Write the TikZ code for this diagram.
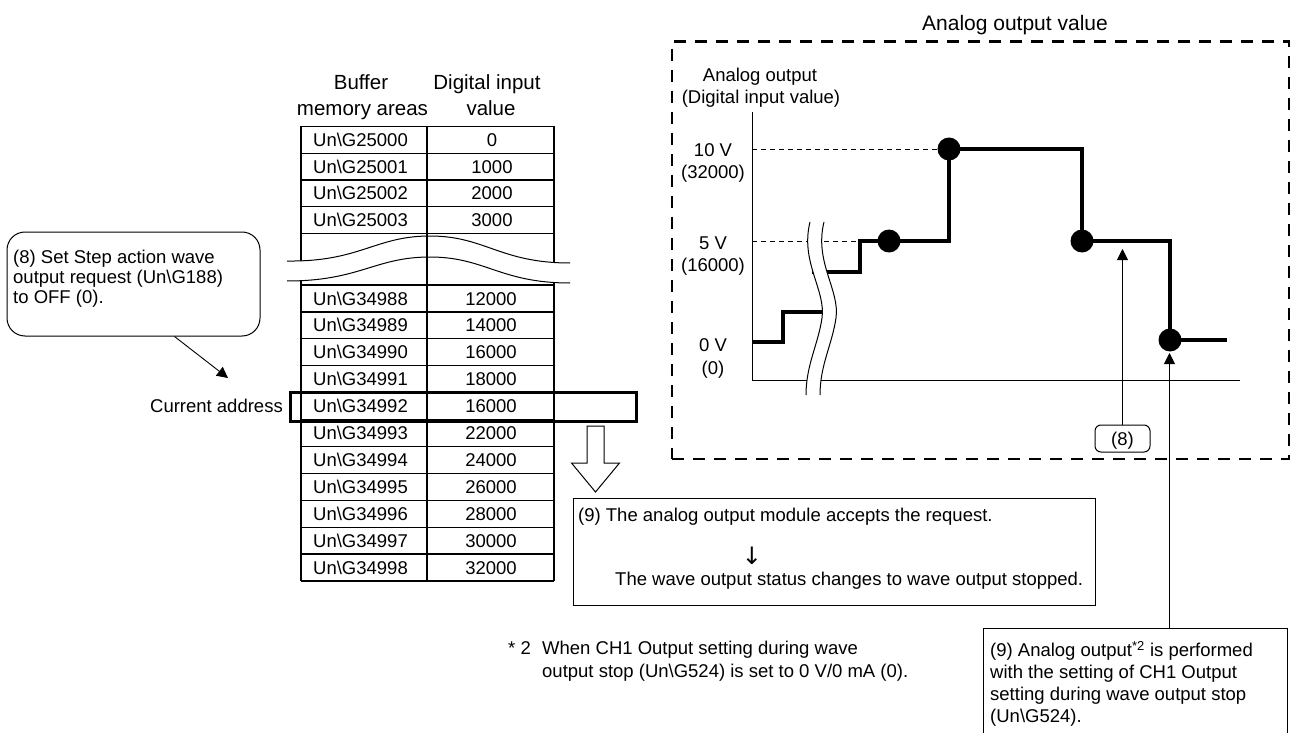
\documentclass[tikz,border=0pt]{standalone}
\usepackage{fontspec}
\setmainfont{Liberation Sans}
\newfontfamily\djv{DejaVu Sans}
\usetikzlibrary{arrows.meta,calc}
\newcommand\ung[1]{Un\textbackslash G#1}
\newcommand\fsm{\fontsize{18.5}{21}\selectfont}
\newcommand\fhd{\fontsize{20.5}{24}\selectfont}
\begin{document}
\begin{tikzpicture}[x=1pt,y=-1pt,
  txt/.style={inner sep=0pt, font=\fsm, text height=13.2pt, text depth=0pt},
  hdr/.style={inner sep=0pt, font=\fhd, text height=14.6pt, text depth=0pt},
  ml/.style={inner sep=0pt, align=left, anchor=north west},
  tline/.style={line width=1.2pt},
  wave/.style={line width=4.2pt, line join=miter},
  refline/.style={line width=0.8pt, dash pattern=on 5pt off 4pt},
  frame/.style={draw, line width=2.6pt, dash pattern=on 12pt off 9pt, inner sep=0pt},
  dot/.style={circle, fill=black, minimum size=23pt, inner sep=0pt},
  tip/.style={-{Triangle[length=11pt,width=11pt]}, line width=0.9pt},
  box/.style={draw, line width=1pt, inner sep=0pt}
]
\useasboundingbox (0,0) rectangle (1291,733);

% ---------------- left callout ----------------
\node[box, rounded corners=18pt, minimum width=253pt, minimum height=104pt] (callout) at (133.5,284) {};
\node[ml, font=\fontsize{18.5}{20}\selectfont] (callouttxt) at (13,250) {(8) Set Step action wave\\output request (\ung{188})\\to OFF (0).};
\node[txt, anchor=east] (cur) at (283,406) {Current address};
\coordinate (ctip) at (228,378);
\draw[tip] ($(callout.south west)+(168,0)$) -- (ctip);

% ---------------- table ----------------
\node[hdr] (h1) at (361,82) {Buffer};
\node[hdr] (h2) at (362.5,108) {memory areas};
\node[hdr] (h3) at (487,82) {Digital input};
\node[hdr] (h4) at (491,108) {value};

\foreach \k in {0,...,4} \draw[tline] (301,126.5+26.75*\k) -- (554,126.5+26.75*\k);
\foreach \k in {0,...,11} \draw[tline] (301,285+26.9*\k) -- (554,285+26.9*\k);
\draw[tline] (301,126.5) -- (301,580.9);
\draw[tline] (554,126.5) -- (554,580.9);
\draw[tline] (427,126.5) -- (427,580.9);

\foreach \i/\a/\v in {0/25000/0,1/25001/1000,2/25002/2000,3/25003/3000}{
  \node[txt, anchor=west] (ta\i) at (313,139.9+26.75*\i) {\ung{\a}};
  \node[txt] (tb\i) at (492,139.9+26.75*\i) {\v};
}
\foreach \i/\a/\v in {0/34988/12000,1/34989/14000,2/34990/16000,3/34991/18000,4/34992/16000,5/34993/22000,6/34994/24000,7/34995/26000,8/34996/28000,9/34997/30000,10/34998/32000}{
  \node[txt, anchor=west] (tc\i) at (313,298.45+26.9*\i) {\ung{\a}};
  \node[txt] (td\i) at (491,298.45+26.9*\i) {\v};
}

% break band
\fill[white] (287,261) .. controls (360,262) and (375,236) .. (430,236) .. controls (485,236) and (500,263) .. (570,263)
  -- (570,283) .. controls (500,283) and (485,257) .. (430,257) .. controls (375,257) and (360,281) .. (287,281) -- cycle;
\draw[line width=1pt] (287,261) .. controls (360,262) and (375,236) .. (430,236) .. controls (485,236) and (500,263) .. (570,263);
\draw[line width=1pt] (287,281) .. controls (360,281) and (375,257) .. (430,257) .. controls (485,257) and (500,283) .. (570,283);
\draw[tline] (427,230) -- (427,290);

% current address highlight
\node[draw, line width=3pt, minimum width=346pt, minimum height=28.5pt, inner sep=0pt] (curbox) at (463,406.75) {};

% hollow arrow
\draw[line width=1pt, fill=white] (587,426) -- (604,426) -- (604,463) -- (619.5,463) -- (595.5,492) -- (571.5,463) -- (587,463) -- cycle;

% ---------------- accept box ----------------
\node[box, minimum width=522pt, minimum height=107pt] (acc) at (834,551.5) {};
\node[txt, anchor=west] (acc1) at (578,515) {(9) The analog output module accepts the request.};
\node[inner sep=0pt, font=\djv\fontsize{24}{28}\selectfont] (accarr) at (752,556) {↓};
\node[txt, anchor=west] (acc2) at (615,579) {The wave output status changes to wave output stopped.};

% footnote
\node[txt, anchor=west] (fn0) at (508,648) {* 2};
\node[ml, font=\fontsize{18.5}{23}\selectfont] (fn1) at (542,641) {When CH1 Output setting during wave\\output stop (\ung{524}) is set to 0 V/0 mA (0).};

% ---------------- graph ----------------
\node[font=\fontsize{21}{24}\selectfont, inner sep=0pt, text height=15pt, text depth=0pt] (title) at (1015,23) {Analog output value};
\node[frame, minimum width=617pt, minimum height=417.5pt] (frm) at (980.5,250.25) {};

\node[txt] (yl1) at (760,75) {Analog output};
\node[txt] (yl2) at (761,97) {(Digital input value)};
\node[txt] (v10) at (713,150) {10 V};
\node[txt] (v10d) at (713,172) {(32000)};
\node[txt] (v5) at (713,243) {5 V};
\node[txt] (v5d) at (713,265) {(16000)};
\node[txt] (v0) at (713,345) {0 V};
\node[txt] (v0d) at (713,368) {(0)};

\coordinate (O) at (752,380);
\draw[line width=1pt] (752,112) -- (O) -- (1240,380);

\draw[refline] (752,149) -- (949,149);
\draw[refline] (752,241) -- (860,241);

\draw[wave] (752,342) -- (783,342) -- (783,312) -- (828,312);
\draw[wave] (812,272) -- (860,272) -- (860,241) -- (949,241) -- (949,149) -- (1082,149) -- (1082,241) -- (1170,241) -- (1170,340) -- (1227,340);

% graph break
\fill[white] (810,222) .. controls (800,262) and (826,290) .. (822,318) .. controls (818,345) and (806,365) .. (806,395)
  -- (820,395) .. controls (820,365) and (832,345) .. (836,318) .. controls (840,290) and (814,262) .. (824,222) -- cycle;
\draw[line width=1pt] (810,222) .. controls (800,262) and (826,290) .. (822,318) .. controls (818,345) and (806,365) .. (806,395);
\draw[line width=1pt] (824,222) .. controls (814,262) and (840,290) .. (836,318) .. controls (832,345) and (820,365) .. (820,395);

\node[dot] (d1) at (889,241) {};
\node[dot] (d2) at (949,149) {};
\node[dot] (d3) at (1082,241) {};
\node[dot] (d4) at (1170,340) {};

% (8) arrow
\node[box, rounded corners=6pt, minimum width=55pt, minimum height=27pt, font=\fsm, text height=13.2pt, text depth=0pt] (b8) at (1122.5,438.5) {(8)};
\coordinate (t8) at (1122.5,249);
\draw[tip] (b8.north) -- (t8);

% (9) analog box
\node[box, minimum width=304pt, minimum height=120pt] (an9) at (1135,688) {};
\node[ml, font=\fontsize{18.5}{22}\selectfont] (an9t) at (990,641) {(9) Analog output\textsuperscript{*2} is performed\\with the setting of CH1 Output\\setting during wave output stop\\(\ung{524}).};
\coordinate (t9) at (1169.5,353);
\draw[tip] (an9.north -| t9) -- (t9);
\end{tikzpicture}
\end{document}
